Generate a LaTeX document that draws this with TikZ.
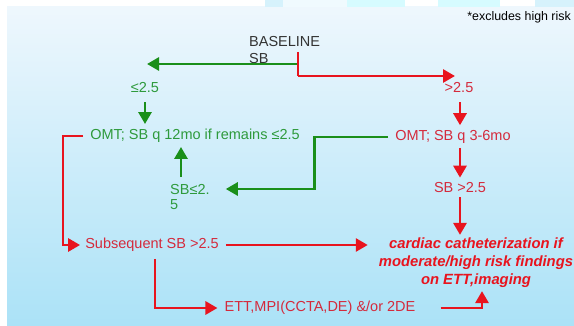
\documentclass[tikz,border=0pt]{standalone}
\usepackage{fontspec}
\setmainfont{Liberation Sans}
\usetikzlibrary{arrows.meta,positioning}
\definecolor{gline}{HTML}{1A8F1A}
\definecolor{gtext}{HTML}{2E9A3C}
\definecolor{rline}{HTML}{E8141E}
\definecolor{rtext}{HTML}{D42A3C}
\definecolor{bgtop}{HTML}{EEF7FD}
\definecolor{bgbot}{HTML}{ABE2F7}
\begin{document}
\begin{tikzpicture}[
	x=1pt, y=-1pt,
	txt/.style={ inner sep=1pt, font=\fontsize{14.5}{17}\selectfont },
	gtxt/.style={ txt, text=gtext },
	rtxt/.style={ txt, text=rtext },
	garrow/.style={ gline, line width=2.8pt, -{Triangle[length=12pt,width=13pt]} },
	rarrow/.style={ rline, line width=2.8pt, -{Triangle[length=12pt,width=13pt]} }
]
\useasboundingbox (0,0) rectangle (574,326);
\fill[white] (0,0) rectangle (574,326);
\shade[top color=bgtop, bottom color=bgbot] (7,7) rectangle (574,326);
\fill[cyan!16] (265,0) rectangle (283,7);
\fill[cyan!6] (283,0) rectangle (347,7);
\fill[blue!10!cyan!16] (347,0) rectangle (405,7);
\fill[blue!10!cyan!16] (438,0) rectangle (500,7);
\fill[cyan!16] (535,0) rectangle (574,7);

\node at (572,17) (note) [txt, anchor=east, font=\fontsize{12.4}{14}\selectfont] {*excludes high risk};
\node at (248,50) (base) [txt, anchor=west, align=left, text=black!80, font=\fontsize{14.5}{17}\selectfont] {BASELINE\\SB};

\node at (145,88) (le) [gtxt] {≤2.5};
\node at (459,88) (gt) [rtxt] {>2.5};
\node at (195,136) (omtlow) [gtxt] {OMT; SB q 12mo if remains ≤2.5};
\node at (453,137) (omthigh) [rtxt] {OMT; SB q 3-6mo};
\node at (169,197) (sblow) [gtxt, anchor=west, align=left, font=\fontsize{14.5}{15}\selectfont] {SB≤2.\\5};
\node at (460,188) (sbhigh) [rtxt] {SB >2.5};
\node at (152,245) (subseq) [rtxt] {Subsequent SB >2.5};
\node at (476,263) (cath) [txt, text=rline, align=center, font=\fontsize{14.8}{18}\selectfont\bfseries\itshape] {cardiac catheterization if\\moderate/high risk findings\\on ETT,imaging};
\node at (320,308) (ett) [rtxt] {ETT,MPI(CCTA,DE) \&/or 2DE};

\coordinate (split) at (298,52);
\coordinate (gturn) at (298,64);
\coordinate (rturn) at (298,76);
\draw[garrow] (gturn) -- ([xshift=2pt]gturn -| le);
\draw[rline, line width=2.8pt] (split) -- (rturn);
\draw[rarrow] (rturn) -- ([xshift=-4pt]rturn -| gt);

\draw[garrow, shorten <=8pt, shorten >=4pt] (le.south) -- (le |- omtlow.north);
\draw[rarrow, shorten <=8pt, shorten >=4pt] ([xshift=1pt]gt.south) -- ([xshift=1pt]gt |- omthigh.north);
\draw[rarrow, shorten <=6pt, shorten >=4pt] (omtlow.west) -- ++(-26,0) |- (subseq.west);
\draw[garrow, shorten <=6pt, shorten >=15pt] (omthigh.west) -- ++(-80,0) |- (sblow.east |- 0,189);
\draw[garrow, shorten <=6pt, shorten >=3pt] ([xshift=12pt]sblow.north west) -- ([xshift=12pt]sblow.north west |- omtlow.south);
\draw[rarrow, shorten <=3pt, shorten >=4pt] ([xshift=7pt]omthigh.south) -- (sbhigh.north);
\draw[rarrow, shorten <=3pt, shorten >=2pt] (sbhigh.south) -- (sbhigh.south |- cath.north);
\draw[rarrow, shorten <=6pt, shorten >=10pt] (subseq.east) -- (subseq.east -| cath.west);
\draw[rarrow, shorten <=6pt, shorten >=6pt] ([xshift=3pt]subseq.south) |- (ett.west);
\draw[rarrow, shorten <=24pt, shorten >=2pt] (ett.east) -| ([xshift=6pt]cath.south);

\end{tikzpicture}
\end{document}
